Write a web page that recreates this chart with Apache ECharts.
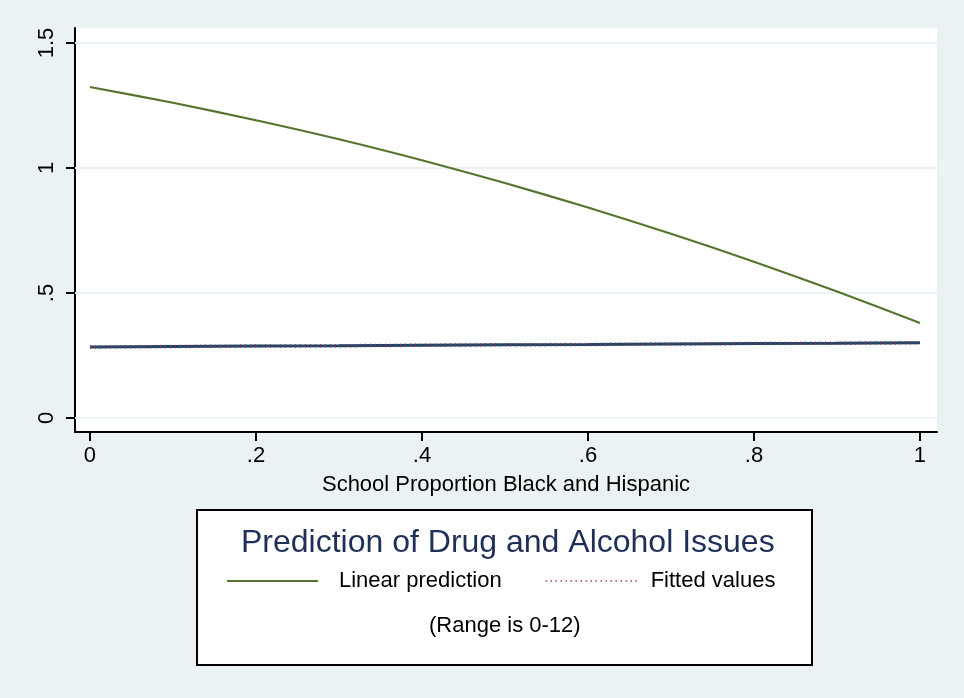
<!DOCTYPE html>
<html>
<head>
<meta charset="utf-8">
<script src="https://cdn.jsdelivr.net/npm/echarts@6/dist/echarts.min.js"></script>
<style>
html,body{margin:0;padding:0;background:#EAF2F3;}
#c{width:964px;height:698px;}
</style>
</head>
<body>
<div id="c"></div>
<script>
// Data
const xValues = [0, 0.1, 0.2, 0.3, 0.4, 0.5, 0.6, 0.7, 0.8, 0.9, 1.0];
const linearPrediction = [1.324, 1.261, 1.191, 1.115, 1.031, 0.940, 0.842, 0.737, 0.625, 0.506, 0.380];
const baselineLine = [0.284, 0.286, 0.288, 0.289, 0.291, 0.293, 0.294, 0.296, 0.298, 0.299, 0.301];
const fittedValues = [0.284, 0.286, 0.288, 0.289, 0.291, 0.293, 0.294, 0.296, 0.298, 0.299, 0.301];
const xTicks = [0, 0.2, 0.4, 0.6, 0.8, 1];
const yTicks = [0, 0.5, 1, 1.5];
const chartTitle = 'Prediction of Drug and Alcohol Issues';
const chartNote = '(Range is 0-12)';
const xTitle = 'School Proportion Black and Hispanic';

const FONT = 'Liberation Sans, Arial, sans-serif';
function fmt(v){
  const r = Math.round(v*10)/10;
  let s = String(r);
  if (s.startsWith('0.')) s = s.slice(1);
  return s;
}
function pairs(ys){ return xValues.map((x,i)=>[x, ys[i]]); }

const chart = echarts.init(document.getElementById('c'), null, {renderer:'canvas'});
chart.setOption({
  backgroundColor: '#EAF2F3',
  animation: false,
  textStyle: {fontFamily: FONT},
  grid: {left: 75, right: 27, top: 28, bottom: 266, show: true, backgroundColor: '#ffffff', borderWidth: 0, containLabel: false},
  title: [
    {text: chartTitle, left: 236, top: 522, textStyle: {fontFamily: FONT, fontSize: 32, fontWeight: 'normal', color: '#1F2F58'}},
    {text: chartNote, left: 424, top: 610, textStyle: {fontFamily: FONT, fontSize: 22, fontWeight: 'normal', color: '#000'}}
  ],
  legend: {
    data: [
      {name: 'Linear prediction', textStyle: {padding: [0,0,0,16]}},
      {name: 'Fitted values', textStyle: {padding: [0,0,0,9]}}
    ],
    top: 565, left: 221,
    itemWidth: 91, itemHeight: 14, itemGap: 43,
    itemStyle: {opacity: 0},
    textStyle: {fontFamily: FONT, fontSize: 22, color: '#000'},
    selectedMode: false
  },
  graphic: [
    {type: 'rect', shape: {x: 197, y: 510, width: 615, height: 155}, style: {fill: '#fff', stroke: '#000', lineWidth: 2}, z: -1}
  ],
  xAxis: {
    type: 'value', min: -0.018, max: 1.0205,
    name: xTitle, nameLocation: 'middle', nameGap: 42,
    nameTextStyle: {fontFamily: FONT, fontSize: 22, color: '#000'},
    axisLine: {show: true, onZero: false, lineStyle: {color: '#000', width: 2}},
    axisTick: {show: true, inside: false, length: 9, lineStyle: {color: '#000', width: 2}, customValues: xTicks},
    axisLabel: {fontFamily: FONT, fontSize: 22, color: '#000', margin: 13, customValues: xTicks, formatter: fmt},
    splitLine: {show: false}
  },
  yAxis: {
    type: 'value', min: -0.056, max: 1.56,
    axisLine: {show: true, onZero: false, lineStyle: {color: '#000', width: 2}},
    axisTick: {show: true, inside: false, length: 9, lineStyle: {color: '#000', width: 2}, customValues: yTicks},
    axisLabel: {fontFamily: FONT, fontSize: 22, color: '#000', margin: 28, rotate: 90, customValues: yTicks, formatter: fmt, verticalAlign: 'middle', align: 'center'},
    splitLine: {show: false}
  },
  series: [
    {
      name: 'grid', type: 'line', data: [], z: 1, silent: true,
      markLine: {
        silent: true, z: 1, symbol: ['none','none'], label: {show: false},
        lineStyle: {color: '#EAF2F3', width: 2, type: 'solid'},
        data: yTicks.map(v => ({yAxis: v}))
      }
    },
    {
      name: 'Linear prediction', type: 'line', data: pairs(linearPrediction), smooth: 0.3,
      symbol: 'none', z: 3, lineStyle: {color: '#55752F', width: 2.2}, itemStyle: {color: '#55752F'}
    },
    {
      name: 'Linear prediction (ref)', type: 'line', data: pairs(baselineLine),
      symbol: 'none', z: 2, lineStyle: {color: '#1A476F', width: 3}, itemStyle: {color: '#1A476F'}
    },
    {
      name: 'Fitted values', type: 'line', data: pairs(fittedValues),
      symbol: 'none', z: 4, lineStyle: {color: '#90353B', width: 3.5, type: [1, 4]}, itemStyle: {color: '#90353B'}
    }
  ]
});
</script>
</body>
</html>
